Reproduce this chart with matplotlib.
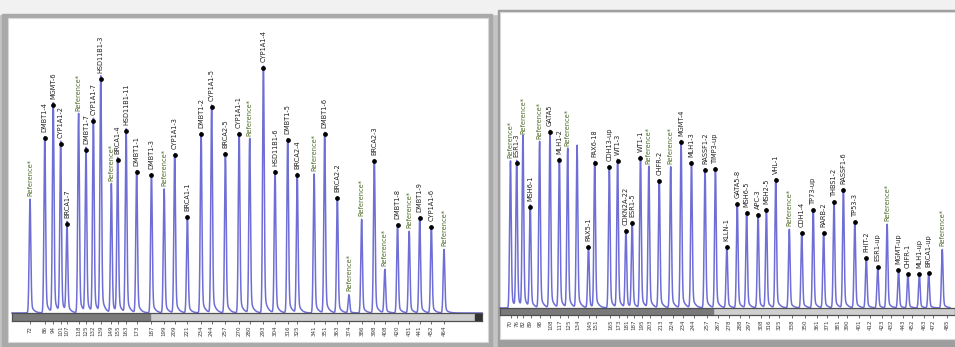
import numpy as np
import matplotlib.pyplot as plt
from matplotlib.patches import Rectangle

W, H = 955, 347

# left run: fragment size, peak height (RFU), probe name
left_sizes = [72, 86, 94, 101, 107, 118, 125, 132, 139, 149, 155, 163, 173, 187,
              199, 209, 221, 234, 244, 257, 270, 280, 293, 304, 316, 325, 341, 351,
              363, 374, 386, 398, 408, 420, 431, 441, 452, 464]
left_heights = [1130, 1750, 2080, 1690, 890, 1980, 1630, 1920, 2340, 1280, 1530, 1820,
                1410, 1380, 1230, 1580, 960, 1790, 2060, 1590, 1790, 1730, 2450, 1410,
                1730, 1380, 1380, 1790, 1150, 180, 930, 1520, 430, 880, 810, 950, 860, 630]
left_names = ["Reference*", "DMBT1-4", "MGMT-6", "CYP1A1-2", "BRCA1-7", "Reference*",
              "DMBT1-7", "CYP1A1-7", "HSD11B1-3", "Reference*", "BRCA1-4", "HSD11B1-11",
              "DMBT1-1", "DMBT1-3", "Reference*", "CYP1A1-3", "BRCA1-1", "DMBT1-2",
              "CYP1A1-5", "BRCA2-5", "CYP1A1-1", "Reference*", "CYP1A1-4", "HSD11B1-6",
              "DMBT1-5", "BRCA2-4", "Reference*", "DMBT1-6", "BRCA2-2", "Reference*",
              "Reference*", "BRCA2-3", "Reference*", "DMBT1-8", "Reference*", "DMBT1-9",
              "CYP1A1-6", "Reference*"]

# right run
right_sizes = [70, 76, 82, 89, 98, 108, 117, 125, 134, 145, 151, 165, 173, 181, 187,
               195, 203, 213, 224, 234, 244, 257, 267, 278, 288, 297, 308, 316, 325,
               338, 350, 361, 371, 381, 390, 401, 412, 423, 432, 443, 452, 463, 472, 485]
right_heights = [1460, 1450, 1700, 1010, 1650, 1760, 1480, 1580, 1610, 610, 1450, 1410,
                 1470, 770, 850, 1500, 1400, 1270, 1400, 1660, 1450, 1380, 1390, 610,
                 1040, 950, 930, 980, 1280, 780, 750, 980, 750, 1060, 1180, 860, 500,
                 410, 830, 380, 340, 340, 350, 580]
right_names = ["Reference*", "ESR1-3", "Reference*", "MSH6-1", "Reference*", "GATA5",
               "MLH1-2", "Reference*", "", "PAX5-1", "PAX6-18", "CDH13-up", "WT1-3",
               "CDKN2A-22", "ESR1-5", "WT1-1", "Reference*", "CHFR-2", "Reference*",
               "MGMT-4", "MLH1-3", "RASSF1-2", "TIMP3-up", "KLLN-1", "GATA5-8", "MSH6-5",
               "APC-3", "MSH2-5", "VHL-1", "Reference*", "CDH1-4", "TP73-up", "RARB-2",
               "THBS1-2", "RASSF1-6", "TP53-3", "FHIT-2", "ESR1-up", "Reference*",
               "MGMT-up", "CHFR-1", "MLH1-up", "BRCA1-up", "Reference*"]

PEAK = "#6e6ed6"
REF_TEXT = "#4f6b2a"


def frac(x0, y0, x1, y1):
    return [x0 / W, 1 - y1 / H, (x1 - x0) / W, (y1 - y0) / H]


def box(fig, x0, y0, x1, y1, **kw):
    fig.add_artist(Rectangle((x0 / W, 1 - y1 / H), (x1 - x0) / W, (y1 - y0) / H,
                             transform=fig.transFigure, **kw))


def trace(x, sizes, heights):
    y = np.zeros_like(x)
    for c, h in zip(sizes, heights):
        d = x - c
        y += h * np.exp(-0.5 * (d / 0.75) ** 2)
        tail = np.where(d > 0, np.exp(-d / 2.6) * (1 - np.exp(-d / 0.6)), 0.0)
        y += 0.11 * h * tail
    return y


def run_panel(fig, plot_px, bar_px, xlim, sizes, heights, names, thumb_end):
    x0, y0, x1, y1 = plot_px
    ax = fig.add_axes(frac(x0, y0, x1, y1))
    ax.set_xlim(xlim)
    ax.set_ylim(0, (y1 - y0) * 10)
    ax.axis("off")

    x = np.arange(xlim[0], xlim[1], 0.05)
    ax.plot(x, trace(x, sizes, heights), color=PEAK, lw=1.1, clip_on=False)

    for c, h, name in zip(sizes, heights, names):
        if not name:
            continue
        if name.startswith("Reference"):
            ax.text(c, h + 40, name, rotation=90, ha="center", va="bottom",
                    fontsize=4.8, color=REF_TEXT, clip_on=False)
        else:
            ax.plot(c, h, "o", ms=2.4, color="black", clip_on=False)
            ax.text(c, h + 60, name, rotation=90, ha="center", va="bottom",
                    fontsize=4.8, color="#222222", clip_on=False)

    # scroll bar with the size axis underneath
    bx0, by0, bx1, by1 = bar_px
    bar = fig.add_axes(frac(bx0, by0, bx1, by1))
    bar.set_xlim(xlim)
    bar.set_ylim(0, 1)
    bar.set_facecolor("#cfcfcf")
    bar.axvspan(xlim[0], thumb_end, color="#7a7a7a")
    for s in bar.spines.values():
        s.set_color("#505050")
        s.set_linewidth(0.9)
    bar.set_yticks([])
    bar.set_xticks(sizes)
    bar.set_xticklabels([str(s) for s in sizes], rotation=90, fontsize=4,
                        color="#3a3a3a")
    bar.tick_params(axis="x", length=2, width=0.6, pad=1.5, color="#555555")
    return ax, bar


fig = plt.figure(figsize=(W / 100, H / 100), dpi=100)
fig.patch.set_facecolor("#c4c4c4")

# window backgrounds and shadows
box(fig, 0, 0, W, 14, color="#f1f1f1", zorder=-5)
box(fig, 2, 14, 492, 347, color="#a9a9a9", zorder=-5)
box(fig, 8, 18, 488, 342, facecolor="white", edgecolor="#d8d8d8", lw=0.8, zorder=-4)
box(fig, 498, 10, W, 347, color="#9e9e9e", zorder=-5)
box(fig, 500, 12, W, 339, facecolor="white", edgecolor="#d8d8d8", lw=0.8, zorder=-4)

run_panel(fig, (12, 20, 482, 313), (12, 313, 482, 321), (55, 500),
          left_sizes, left_heights, left_names, 186)
box(fig, 475, 314, 481, 320, color="#333333", zorder=5)

run_panel(fig, (500, 15, 950, 308), (500, 308, 955, 315), (60, 492.5),
          right_sizes, right_heights, right_names, 262)

fig.savefig("out.png", dpi=100)
